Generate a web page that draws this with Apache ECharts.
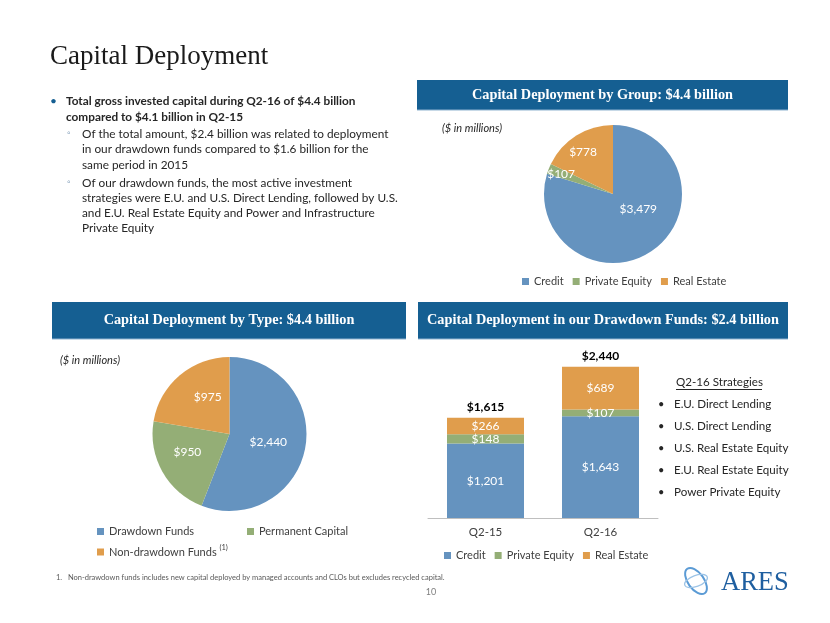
<!DOCTYPE html>
<html><head><meta charset="utf-8">
<script src="https://cdn.jsdelivr.net/npm/echarts@6/dist/echarts.min.js"></script>
<style>html,body{margin:0;padding:0;background:#fff}#c{width:830px;height:623px}</style>
</head><body><div id="c"></div>
<script>
// ---- data ----
const groupNames = ['Credit', 'Private Equity', 'Real Estate'];
const groupValues = [3479, 107, 778];
const typeNames = ['Drawdown Funds', 'Permanent Capital', 'Non-drawdown Funds'];
const typeValues = [2440, 950, 975];
const quarters = ['Q2-15', 'Q2-16'];
const creditVals = [1201, 1643];
const peVals = [148, 107];
const reVals = [266, 689];
const totals = [1615, 2440];
const strategies = ['E.U. Direct Lending', 'U.S. Direct Lending', 'U.S. Real Estate Equity', 'E.U. Real Estate Equity', 'Power Private Equity'];

const BLUE = '#6593BF', GREEN = '#94AE76', ORANGE = '#E09D4C', HEAD = '#155F92';
const groupColors = [BLUE, GREEN, ORANGE];
const SANS = 'Lato';
const SERIF = 'Liberation Serif';
const fmt = v => '$' + v.toLocaleString('en-US');

const chart = echarts.init(document.getElementById('c'));

function txt(x, y, text, opt) {
  return { type: 'text', x: x, y: y, silent: true,
    style: Object.assign({ text: text, fontFamily: SANS, fontSize: 11.8, fill: '#262626', verticalAlign: 'middle' }, opt || {}) };
}
const g = [];
// title
g.push(txt(50, 57, 'Capital Deployment', { fontFamily: SERIF, fontSize: 27, fill: '#1a1a1a' }));
// bullets
g.push(txt(50, 101, '•', { fill: HEAD, fontSize: 12 }));
g.push(txt(66, 101, 'Total gross invested capital during Q2-16 of $4.4 billion', { fontWeight: 'bold' }));
g.push(txt(66, 117, 'compared to $4.1 billion in Q2-15', { fontWeight: 'bold' }));
const sub1 = ['Of the total amount, $2.4 billion was related to deployment', 'in our drawdown funds compared to $1.6 billion for the', 'same period in 2015'];
const sub2 = ['Of our drawdown funds, the most active investment', 'strategies were E.U. and U.S. Direct Lending, followed by U.S.', 'and E.U. Real Estate Equity and Power and Infrastructure', 'Private Equity'];
g.push(txt(67, 133, '◦', { fill: '#8fa8c0', fontSize: 9 }));
sub1.forEach((s, i) => g.push(txt(82, 134 + i * 15.5, s)));
g.push(txt(67, 182, '◦', { fill: '#8fa8c0', fontSize: 9 }));
sub2.forEach((s, i) => g.push(txt(82, 183 + i * 15.2, s)));

// headers
function header(x, y, w, h, text) {
  g.push({ type: 'rect', silent: true, shape: { x: x, y: y, width: w, height: h }, style: { fill: HEAD } });
  g.push({ type: 'line', silent: true, shape: { x1: x, y1: y + h, x2: x + w, y2: y + h }, style: { stroke: '#8fb3d0', lineWidth: 1 } });
  g.push(txt(x + w / 2, y + h / 2, text, { fontFamily: SERIF, fontWeight: 'bold', fontSize: 14.3, fill: '#fff', align: 'center' }));
}
header(417, 80, 371, 30, 'Capital Deployment by Group: $4.4 billion');
header(52, 302, 354, 37, 'Capital Deployment by Type: $4.4 billion');
header(418, 302, 370, 37, 'Capital Deployment in our Drawdown Funds: $2.4 billion');

g.push(txt(442, 128, '($ in millions)', { fontStyle: 'italic', fontSize: 11 }));
g.push(txt(60, 360, '($ in millions)', { fontStyle: 'italic', fontSize: 11 }));

// strategies
g.push(txt(676, 382, 'Q2-16 Strategies', { fontSize: 11.6 }));
g.push({ type: 'line', silent: true, shape: { x1: 676, y1: 389.5, x2: 762, y2: 389.5 }, style: { stroke: '#262626', lineWidth: 1 } });
strategies.forEach((s, i) => {
  g.push(txt(658, 404 + i * 22, '•', { fontSize: 11 }));
  g.push(txt(674, 404 + i * 22, s, { fontSize: 11.6 }));
});

// footnote + page number
g.push(txt(56, 578, '1.   Non-drawdown funds includes new capital deployed by managed accounts and CLOs but excludes recycled capital.', { fontSize: 7.5, fill: '#595959' }));
g.push(txt(431, 592, '10', { fontSize: 9, fill: '#7f7f7f', align: 'center' }));

// logo
g.push({ type: 'ellipse', silent: true, x: 696, y: 581, rotation: -0.95, shape: { cx: 0, cy: 0, rx: 15, ry: 8 }, style: { fill: 'none', stroke: '#5b9bd5', lineWidth: 2 } });
g.push({ type: 'ellipse', silent: true, x: 696, y: 581, rotation: 0.35, shape: { cx: 0, cy: 0, rx: 12, ry: 5.5 }, style: { fill: 'none', stroke: '#9cc3e6', lineWidth: 1.2 } });
g.push(txt(721, 583, 'ARES', { fontFamily: SERIF, fontSize: 26.5, fill: '#1f5fa0' }));

const legendText = { fontFamily: SANS, fontSize: 11, color: '#404040' };
const legendBase = { icon: 'rect', itemWidth: 7, itemHeight: 7, itemGap: 9, textStyle: legendText, selectedMode: false, padding: 0 };

const option = {
  animation: false,
  graphic: g,
  legend: [
    Object.assign({}, legendBase, { data: groupNames, left: 522, top: 276 }),
    Object.assign({}, legendBase, { data: groupNames, left: 444, top: 550 }),
    Object.assign({}, legendBase, { data: [typeNames[0]], left: 97, top: 526 }),
    Object.assign({}, legendBase, { data: [typeNames[1]], left: 247, top: 526 }),
    Object.assign({}, legendBase, { data: [typeNames[2]], left: 97, top: 544,
      formatter: n => n + ' {sup|(1)}',
      textStyle: Object.assign({}, legendText, { rich: { sup: { fontSize: 7.5, verticalAlign: 'top', padding: [0, 0, 8, 0], fontFamily: SANS, color: '#404040' } } }) })
  ],
  grid: { left: 428, width: 230, top: 332, height: 186 },
  xAxis: { type: 'category', data: quarters,
    axisLine: { lineStyle: { color: '#bfbfbf' } },
    axisTick: { lineStyle: { color: '#bfbfbf' }, length: 5 },
    axisLabel: { fontFamily: SANS, fontSize: 11.5, color: '#404040', margin: 8 } },
  yAxis: { type: 'value', min: 0, max: 3000, show: false, splitLine: { show: false } },
  series: [
    { type: 'pie', name: 'group', center: [613, 194], radius: 69, startAngle: 90, clockwise: true,
      silent: true,
      label: { position: 'inside', formatter: p => fmt(p.value), color: '#fff', fontFamily: SANS, fontSize: 12 },
      labelLine: { show: false },
      labelLayout: p => [{ dx: 3, dy: -15 }, { dx: -17, dy: -6 }, { dx: -10, dy: -10 }][p.dataIndex],
      itemStyle: { borderWidth: 0 },
      data: groupNames.map((n, i) => ({ name: n, value: groupValues[i], itemStyle: { color: groupColors[i] } })) },
    { type: 'pie', name: 'type', center: [229.5, 434], radius: 77, startAngle: 90, clockwise: true,
      silent: true,
      label: { position: 'inside', formatter: p => fmt(p.value), color: '#fff', fontFamily: SANS, fontSize: 12 },
      labelLine: { show: false },
      labelLayout: p => [{ dx: -2, dy: 0 }, { dx: -6, dy: -2 }, { dx: 5, dy: -5 }][p.dataIndex],
      itemStyle: { borderWidth: 0 },
      data: typeNames.map((n, i) => ({ name: n, value: typeValues[i], itemStyle: { color: groupColors[i] } })) },
    { type: 'bar', name: 'Credit', stack: 'a', data: creditVals, barWidth: 77, itemStyle: { color: BLUE },
      label: { show: true, position: 'inside', formatter: p => fmt(p.value), color: '#fff', fontFamily: SANS, fontSize: 12 } },
    { type: 'bar', name: 'Private Equity', stack: 'a', data: peVals, itemStyle: { color: GREEN },
      label: { show: true, position: 'inside', formatter: p => fmt(p.value), color: '#fff', fontFamily: SANS, fontSize: 12 } },
    { type: 'bar', name: 'Real Estate', stack: 'a', data: reVals, itemStyle: { color: ORANGE },
      label: { show: true, position: 'inside', formatter: p => fmt(p.value), color: '#fff', fontFamily: SANS, fontSize: 12 } },
    { type: 'bar', name: 'Total', data: totals, barWidth: 77, barGap: '-100%', silent: true, z: 1,
      itemStyle: { color: 'rgba(0,0,0,0)' },
      label: { show: true, position: 'top', distance: 5, formatter: p => fmt(p.value), color: '#000', fontWeight: 'bold', fontFamily: SANS, fontSize: 12 } }
  ]
};
chart.setOption(option);
</script>
</body></html>
